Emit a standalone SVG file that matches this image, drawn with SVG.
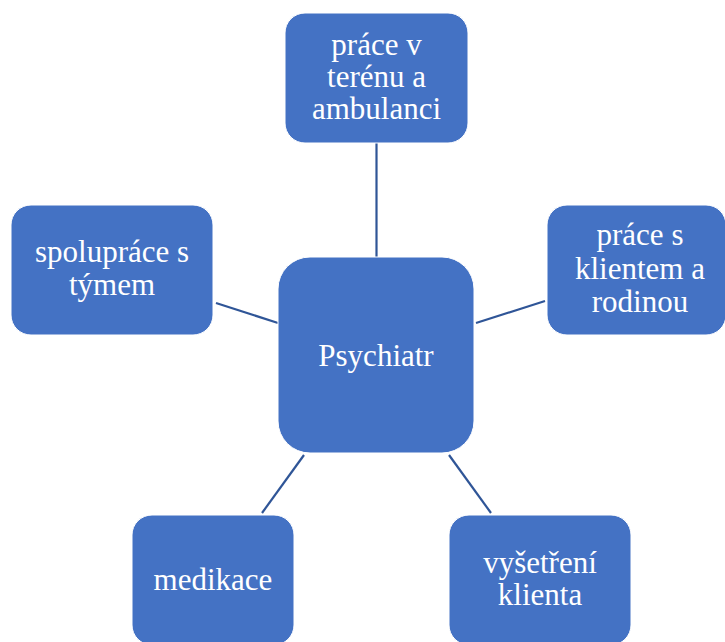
<svg xmlns="http://www.w3.org/2000/svg" width="725" height="642" viewBox="0 0 725 642">
<style>
.box{fill:#4472C4;stroke:#FFFFFF;stroke-width:1}
.lbl{fill:#FFFFFF;font-family:"Liberation Serif","Times New Roman","DejaVu Serif",serif;font-size:31px;text-anchor:middle}
.edge{stroke:#2F5597;stroke-width:2.2;fill:none}
</style>
<rect width="725" height="642" fill="#FFFFFF"/>
<g id="connectors">
<line class="edge" x1="376.5" y1="143" x2="376.5" y2="257"/>
<line class="edge" x1="216" y1="303" x2="278" y2="323"/>
<line class="edge" x1="476" y1="323" x2="545" y2="301"/>
<line class="edge" x1="304" y1="455" x2="262" y2="513"/>
<line class="edge" x1="449" y1="455" x2="491" y2="513"/>
</g>
<g id="center">
<rect class="box" x="278" y="257" width="196" height="196" rx="32"/>
<text class="lbl" x="376" y="366">Psychiatr</text>
</g>
<g id="top">
<rect class="box" x="285" y="13" width="183" height="130" rx="20"/>
<text class="lbl" x="376.5" y="55">práce v</text>
<text class="lbl" x="376.5" y="87">terénu a</text>
<text class="lbl" x="376.5" y="119">ambulanci</text>
</g>
<g id="left">
<rect class="box" x="11" y="205" width="202" height="130" rx="20"/>
<text class="lbl" x="112" y="262">spolupráce s</text>
<text class="lbl" x="112" y="295">týmem</text>
</g>
<g id="right">
<rect class="box" x="547" y="205" width="179" height="130" rx="20"/>
<text class="lbl" x="640" y="245">práce s</text>
<text class="lbl" x="640" y="279">klientem a</text>
<text class="lbl" x="640" y="312">rodinou</text>
</g>
<g id="bottom-left">
<rect class="box" x="132" y="515" width="162" height="130" rx="20"/>
<text class="lbl" x="213" y="590">medikace</text>
</g>
<g id="bottom-right">
<rect class="box" x="449" y="515" width="182" height="130" rx="20"/>
<text class="lbl" x="540" y="573">vyšetření</text>
<text class="lbl" x="540" y="605">klienta</text>
</g>
</svg>
